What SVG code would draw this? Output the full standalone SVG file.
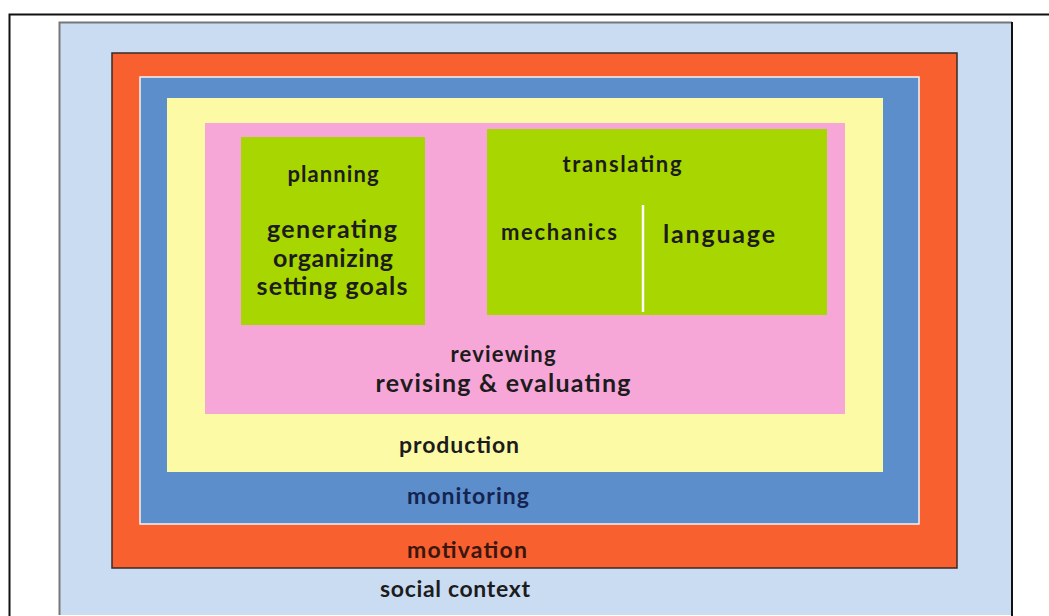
<svg xmlns="http://www.w3.org/2000/svg" width="1049" height="616" viewBox="0 0 1049 616">
<style>
text{font-family:Lato,"Open Sans","Liberation Sans",sans-serif;font-weight:700;fill:#1c1c1c;text-anchor:middle}
.s{font-size:22px}
.l{font-size:25px}
.b{font-size:23px}
</style>
<rect width="1049" height="616" fill="#fff"/>
<path d="M9.5 616V14.5H1049" fill="none" stroke="#111" stroke-width="2"/>
<g id="social">
<rect x="59" y="22" width="953" height="593" fill="#cadcf2"/>
<path d="M59.5 615V22.5H1012" fill="none" stroke="#777" stroke-width="2"/>
<path d="M1012 22V616" stroke="#111" stroke-width="2"/>
<text x="455" y="597" class="b" textLength="150">social context</text>
</g>
<g id="motivation">
<rect x="112" y="53" width="845" height="515" fill="#f8602f" stroke="#3a2a25" stroke-width="1.5"/>
<text x="467" y="558" class="b" style="fill:#3a1610" textLength="120">motivation</text>
</g>
<g id="monitoring">
<rect x="140" y="77" width="779" height="447" fill="#5b8ecb" stroke="#f4f4f4" stroke-width="1.5"/>
<text x="468" y="504" class="b" style="fill:#14234f" textLength="122">monitoring</text>
</g>
<g id="production">
<rect x="167" y="98" width="716" height="374" fill="#fdfaa6"/>
<text x="459" y="453" class="b" textLength="120">production</text>
</g>
<g id="reviewing">
<rect x="205" y="123" width="640" height="291" fill="#f7a6d8"/>
<text x="503" y="362" class="s" textLength="105">reviewing</text>
<text x="503" y="392" class="l" textLength="255">revising &amp; evaluating</text>
</g>
<g id="planning">
<rect x="241" y="137" width="184" height="188" fill="#a8d600"/>
<text x="333" y="182" class="s" textLength="91">planning</text>
<text x="332" y="238" class="l" textLength="130">generating</text>
<text x="333" y="267" class="l" textLength="120">organizing</text>
<text x="332" y="295" class="l" textLength="151">setting goals</text>
</g>
<g id="translating">
<rect x="487" y="129" width="340" height="186" fill="#a8d600"/>
<text x="622" y="172" class="s" textLength="119">translating</text>
<text x="559" y="240" class="s" textLength="116">mechanics</text>
<text x="719" y="243" class="l" textLength="112">language</text>
<line x1="643" y1="205" x2="643" y2="312" stroke="#ffffff" stroke-width="2.5"/>
</g>
<g id="connectors"></g>
</svg>
